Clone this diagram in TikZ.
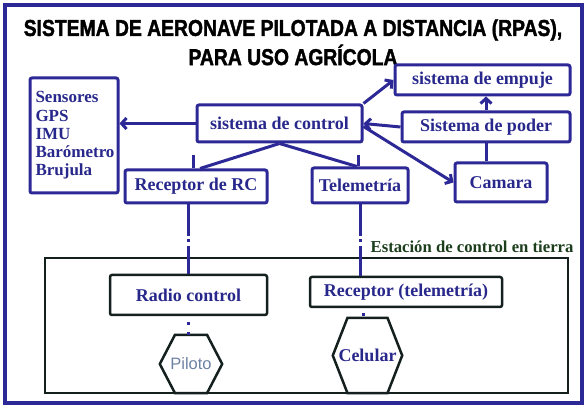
\documentclass[tikz,border=0pt]{standalone}
\usepackage{fontspec}
\setmainfont{Liberation Serif}
\newfontfamily\titlefont[FakeStretch=0.84,BoldFeatures={FakeBold=1.6}]{Liberation Sans}
\newfontfamily\pilotfont{Liberation Sans}
\usetikzlibrary{arrows.meta}
\definecolor{rpasblue}{RGB}{44,40,150}
\definecolor{rpastext}{RGB}{40,40,140}
\definecolor{gsline}{RGB}{20,32,30}
\definecolor{gsgreen}{RGB}{28,62,28}
\definecolor{pilgray}{RGB}{110,130,165}

\begin{document}
\begin{tikzpicture}[x=1pt,y=-1pt,
	bluebox/.style={draw=rpasblue,line width=3pt,rounded corners=2pt,text=rpastext,font=\fontsize{18}{19}\selectfont\bfseries,inner sep=0pt},
	blackbox/.style={draw=gsline,line width=2.5pt,rounded corners=2pt,text=rpastext,font=\fontsize{18}{19}\selectfont\bfseries,inner sep=0pt},
	link/.style={draw=rpasblue,line width=3pt},
	arr/.style={link,-{Straight Barb[length=5pt,width=11pt]}},
	radiolink/.style={link,dash pattern=on 32pt off 3pt on 3pt off 4pt on 80pt},
	hexlink/.style={link,dash pattern=on 0pt off 6pt on 3pt off 7pt on 3pt}]
			\useasboundingbox (0,0) rectangle (587,411);
			\draw [draw=rpasblue,line width=3.5pt] (5,5) rectangle (582,403);
			\node [font=\titlefont\fontsize{23}{24}\selectfont\bfseries] (titulo) at (293,30) {SISTEMA DE AERONAVE PILOTADA A DISTANCIA (RPAS),};
			\node [font=\titlefont\fontsize{23}{24}\selectfont\bfseries] (titulob) at (293,55) {PARA USO AGRÍCOLA};
			% aeronave
			\node [bluebox,minimum width=88pt,minimum height=115pt,text width=77pt,align=left,font=\fontsize{17}{18.3}\selectfont\bfseries] (sens) at (74,135.5) {Sensores\\GPS\\IMU\\Barómetro\\Brujula};
			\node [bluebox,minimum width=165pt,minimum height=37pt] (ctrl) at (279.5,123.5) {sistema de control};
			\node [bluebox,minimum width=142pt,minimum height=33pt] (rc) at (196,186.5) {Receptor de RC};
			\node [bluebox,minimum width=96pt,minimum height=35pt] (tel) at (360,185.5) {Telemetría};
			\node [bluebox,minimum width=175pt,minimum height=30pt] (emp) at (482.5,80) {sistema de empuje};
			\node [bluebox,minimum width=168pt,minimum height=30pt] (pod) at (486,127) {Sistema de poder};
			\node [bluebox,minimum width=92pt,minimum height=39pt] (cam) at (501,182.5) {Camara};
			\draw [arr] (ctrl.west) -- (ctrl.west -| sens.east);
			\draw [arr] (ctrl.north east) -- (emp.west);
			\draw [arr] (pod.west) -- (ctrl.east);
			\draw [arr] ([yshift=-3pt]ctrl.east) -- (cam.west);
			\draw [arr] (pod.north) -- (pod.north |- emp.south);
			\draw [link] (pod.south) -- (pod.south |- cam.north);
			\draw [link] (ctrl.south) -- ([xshift=4pt]rc.north);
			\draw [link] ([xshift=-3pt]rc.north) -- ++(0,-13);
			\draw [link] (ctrl.south) -- ([xshift=-3pt]tel.north);
			\draw [link] ([xshift=-2pt]tel.north) -- ++(0,-11);
			% estacion en tierra
			\draw [draw=gsline,line width=2.5pt] (45,258) rectangle (568,393);
			\node [anchor=east,text=gsgreen,font=\fontsize{16.7}{18}\selectfont\bfseries] (tierra) at (577,247) {Estación de control en tierra};
			\node [blackbox,minimum width=157pt,minimum height=40pt] (radio) at (188.5,295) {Radio control};
			\node [blackbox,minimum width=192pt,minimum height=30pt] (rtel) at (406,292) {Receptor (telemetría)};
			\node [minimum width=62pt,minimum height=58pt,inner sep=0pt,text=pilgray,font=\pilotfont\fontsize{16.5}{18}\selectfont] (pil) at (191,364) {Piloto};
			\node [minimum width=69pt,minimum height=75pt,inner sep=0pt,text=rpastext,font=\fontsize{18}{19}\selectfont\bfseries] (cel) at (367.5,355.5) {Celular};
			\draw [draw=gsline,line width=2.5pt] (pil.west) -- ([xshift=-16pt]pil.north) -- ([xshift=16pt]pil.north) -- (pil.east) -- ([xshift=16pt]pil.south) -- ([xshift=-16pt]pil.south) -- cycle;
			\draw [draw=gsline,line width=2.5pt] (cel.west) -- ([xshift=-20pt]cel.north) -- ([xshift=20pt]cel.north) -- (cel.east) -- ([xshift=20pt]cel.south) -- ([xshift=-20pt]cel.south) -- cycle;
			\draw [radiolink] (radio.north |- rc.south) -- (radio.north);
			\draw [radiolink] (tel.south) -- (tel.south |- rtel.north);
			\draw [hexlink] (radio.south) -- (radio.south |- pil.north);
			\draw [link,dash pattern=on 0pt off 5pt on 3pt off 9pt] (rtel.south -| 363,0) -- (363,318);
		\end{tikzpicture}
\end{document}
